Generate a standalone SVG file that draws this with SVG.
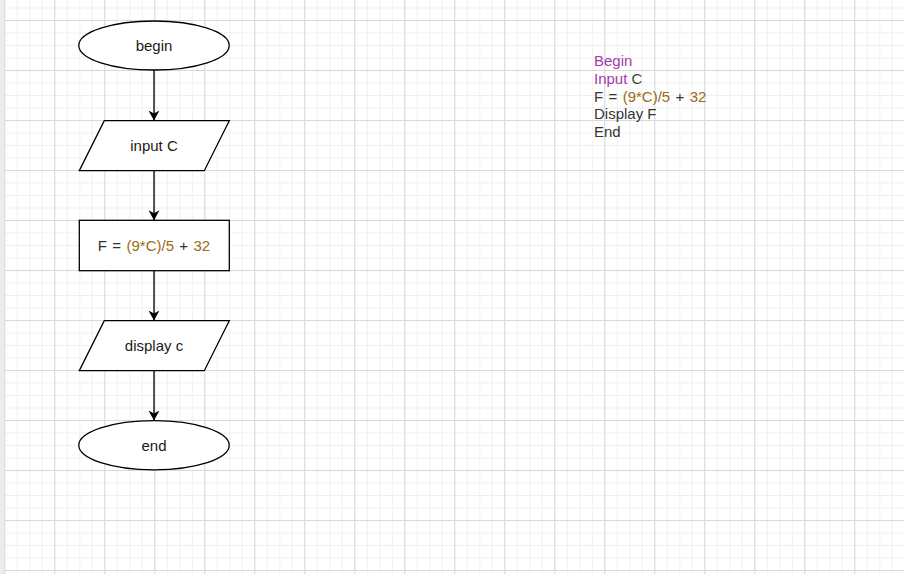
<svg xmlns="http://www.w3.org/2000/svg" width="904" height="574" viewBox="0 0 904 574">
<defs>
<pattern id="minor" patternUnits="userSpaceOnUse" x="4.3" y="7.5" width="12.5" height="12.5">
<path d="M0 0.5 H12.5 M0.5 0 V12.5" stroke="#efefef" stroke-width="1" fill="none"/>
</pattern>
<pattern id="major" patternUnits="userSpaceOnUse" x="4.3" y="20" width="50" height="50">
<path d="M0 0.5 H50 M0.5 0 V50" stroke="#d9d9d9" stroke-width="1" fill="none"/>
</pattern>
<marker id="arrow" viewBox="0 0 10 11" refX="10" refY="5.5" markerWidth="10" markerHeight="11" markerUnits="userSpaceOnUse" orient="auto">
<path d="M0 0 L10 5.5 L0 11 L3 5.5 Z" fill="#000"/>
</marker>
</defs>
<style>
.shape{fill:#fff;stroke:#000;stroke-width:1.3}
.lbl{font-family:"Liberation Sans",Arial,sans-serif;font-size:15px;fill:#1a1a1a;text-anchor:middle}
.code{font-family:"Liberation Sans",Arial,sans-serif;font-size:15px;fill:#333}
.wide{word-spacing:1.2px}
.pur{fill:#a63aa6}
.brn{fill:#9c6a10}
.gry{fill:#333}
.conn{stroke:#000;stroke-width:1.3;fill:none;marker-end:url(#arrow)}
</style>
<rect width="904" height="574" fill="#fff"/>
<rect x="4" y="0" width="900" height="574" fill="url(#minor)"/>
<rect x="4" y="0" width="900" height="574" fill="url(#major)"/>
<rect x="0" y="0" width="4" height="574" fill="#ececec"/>
<g id="connectors">
<line class="conn" x1="154" y1="70" x2="154" y2="120.5"/>
<line class="conn" x1="154" y1="170.7" x2="154" y2="220.3"/>
<line class="conn" x1="154" y1="270.7" x2="154" y2="320.5"/>
<line class="conn" x1="154" y1="370.7" x2="154" y2="420.5"/>
</g>
<g id="begin">
<ellipse class="shape" cx="154" cy="45.5" rx="75.2" ry="24.5"/>
<text class="lbl" x="154" y="51">begin</text>
</g>
<g id="input">
<polygon class="shape" points="104.3,120.7 229.3,120.7 204.3,170.7 79.3,170.7"/>
<text class="lbl" x="154" y="151">input C</text>
</g>
<g id="calc">
<rect class="shape" x="79.3" y="220.3" width="150" height="50.4"/>
<text class="lbl wide" x="154" y="251"><tspan class="gry">F = </tspan><tspan class="brn">(9*C)/5</tspan><tspan class="gry"> + </tspan><tspan class="brn">32</tspan></text>
</g>
<g id="display">
<polygon class="shape" points="104.3,320.7 229.3,320.7 204.3,370.7 79.3,370.7"/>
<text class="lbl" x="154" y="351">display c</text>
</g>
<g id="end">
<ellipse class="shape" cx="154" cy="445.3" rx="75.2" ry="24.6"/>
<text class="lbl" x="154" y="451">end</text>
</g>
<g id="pseudocode" class="code">
<text x="594" y="66.3"><tspan class="pur">Begin</tspan></text>
<text x="594" y="83.9"><tspan class="pur">Input </tspan><tspan fill="#444">C</tspan></text>
<text x="594" y="101.5" class="wide"><tspan class="gry">F = </tspan><tspan class="brn">(9*C)/5</tspan><tspan class="gry"> + </tspan><tspan class="brn">32</tspan></text>
<text x="594" y="119.1">Display F</text>
<text x="594" y="136.7">End</text>
</g>
</svg>
